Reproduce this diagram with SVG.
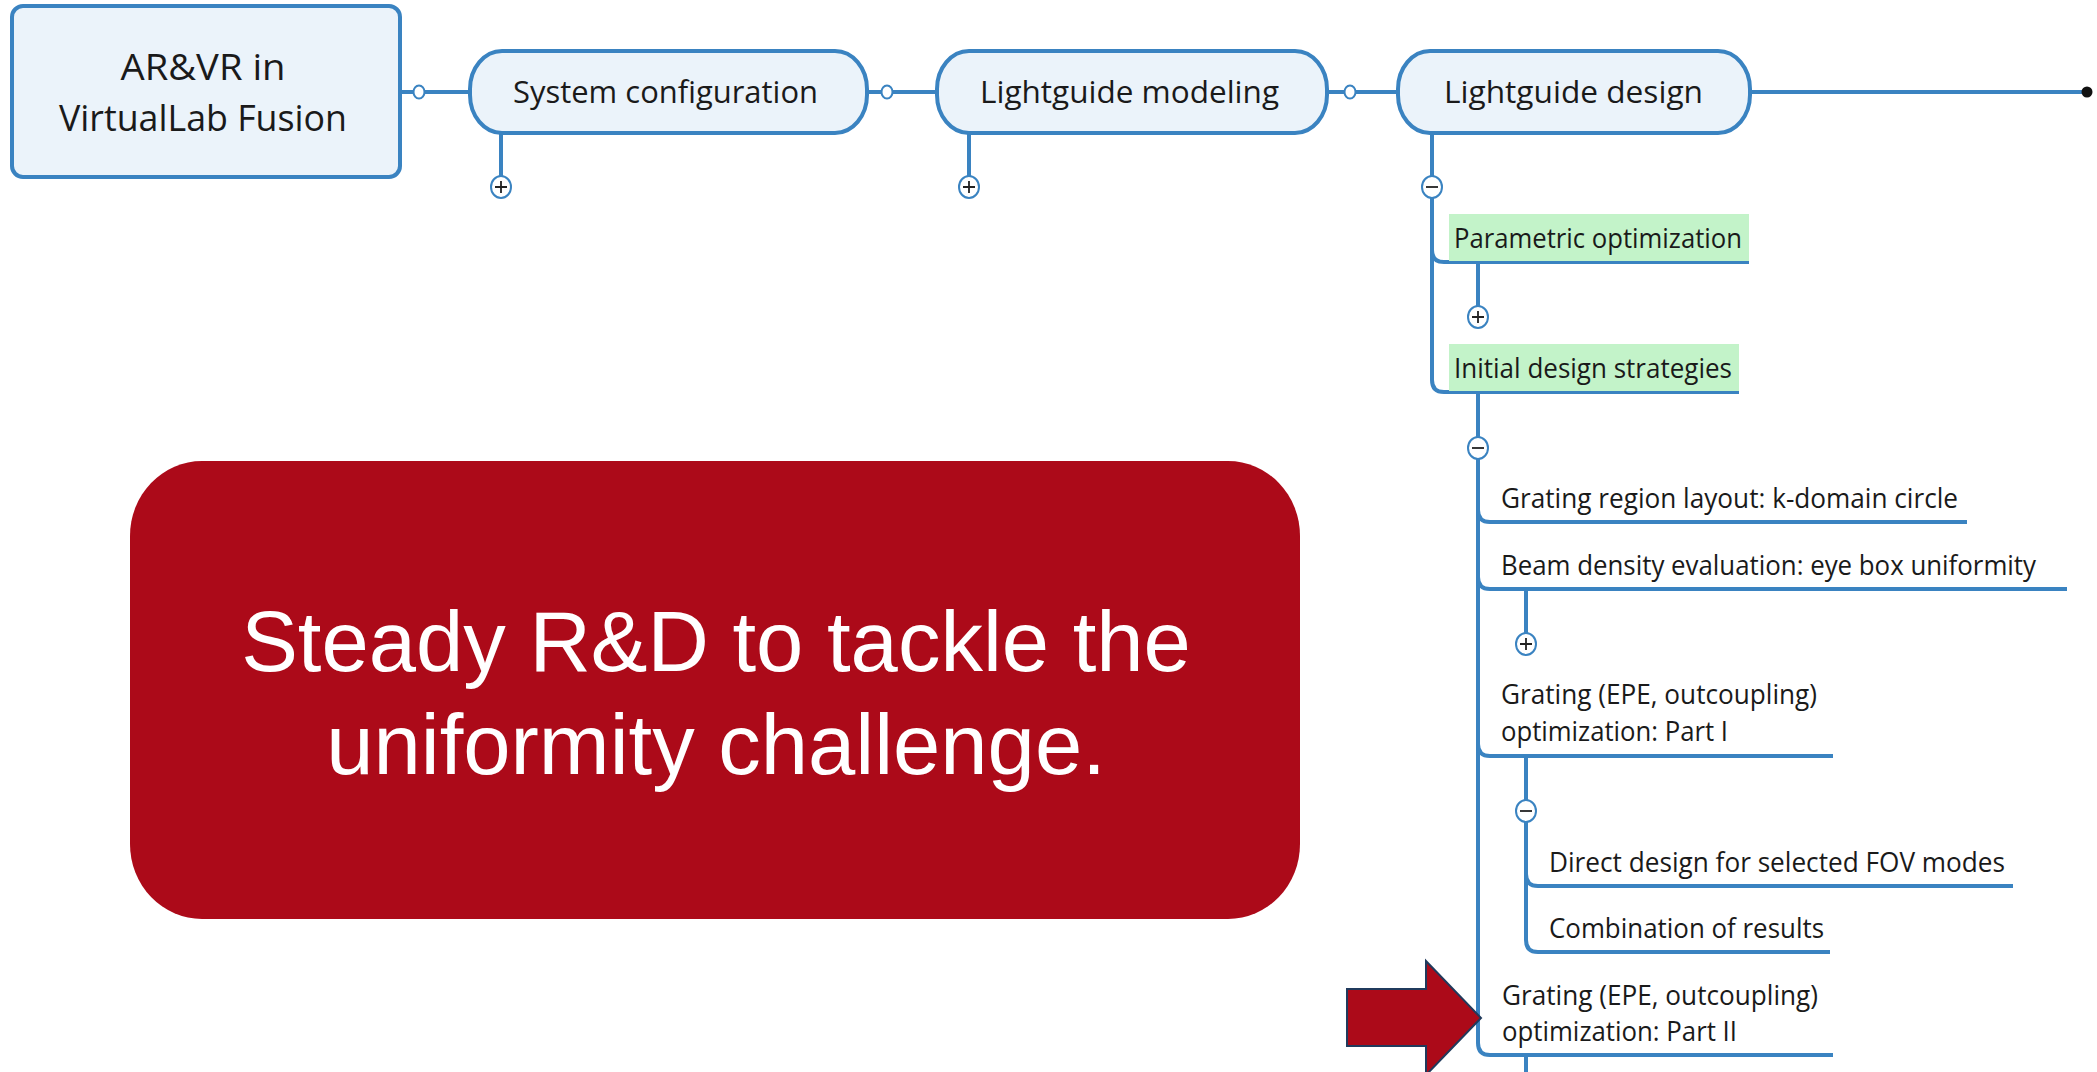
<svg xmlns="http://www.w3.org/2000/svg" width="2097" height="1072" viewBox="0 0 2097 1072">
<style>
.ln{fill:none;stroke:#3A83C1;stroke-width:4}
.pill{fill:#EBF3FA;stroke:#3A83C1;stroke-width:4}
.hub{fill:#fff;stroke:#3A83C1;stroke-width:2}
.tog{fill:#fff;stroke:#3A83C1;stroke-width:2}
.sign{stroke:#222;stroke-width:1.8}
.t{font-family:"Open Sans","Noto Sans",sans-serif;fill:#1a1a1a}
.t1{font-size:31px}
.t0{font-size:36px}
.t2{font-size:27px}
.green{fill:#C3F3C9}
.big{font-family:"Liberation Sans",Arial,sans-serif;font-size:85px;fill:#fff}
</style>
<rect width="2097" height="1072" fill="#fff"/>
<g id="connectors">
<line class="ln" x1="400" y1="92" x2="470" y2="92"/>
<line class="ln" x1="867" y1="92" x2="937" y2="92"/>
<line class="ln" x1="1327" y1="92" x2="1398" y2="92"/>
<line class="ln" x1="1750" y1="92" x2="2087" y2="92"/>
<circle cx="2087" cy="92" r="5.5" fill="#111"/>
<ellipse class="hub" cx="419" cy="92" rx="5.5" ry="6.5"/>
<ellipse class="hub" cx="887" cy="92" rx="5.5" ry="6.5"/>
<ellipse class="hub" cx="1350" cy="92" rx="5.5" ry="6.5"/>
<line class="ln" x1="501" y1="133" x2="501" y2="177"/>
<line class="ln" x1="969" y1="133" x2="969" y2="177"/>
<line class="ln" x1="1432" y1="133" x2="1432" y2="177"/>
<path class="ln" d="M1432,197 V380 Q1432,392 1444,392 H1739"/>
<path class="ln" d="M1432,250 Q1432,262 1444,262 H1749"/>
<line class="ln" x1="1478" y1="262" x2="1478" y2="307"/>
<line class="ln" x1="1478" y1="392" x2="1478" y2="438"/>
<path class="ln" d="M1478,458 V1043 Q1478,1055 1490,1055 H1833"/>
<path class="ln" d="M1478,510 Q1478,522 1490,522 H1967"/>
<path class="ln" d="M1478,577 Q1478,589 1490,589 H2067"/>
<path class="ln" d="M1478,744 Q1478,756 1490,756 H1833"/>
<line class="ln" x1="1526" y1="589" x2="1526" y2="634"/>
<line class="ln" x1="1526" y1="756" x2="1526" y2="801"/>
<path class="ln" d="M1526,821 V940 Q1526,952 1538,952 H1830"/>
<path class="ln" d="M1526,874 Q1526,886 1538,886 H2013"/>
<line class="ln" x1="1526" y1="1055" x2="1526" y2="1075"/>
</g>
<g id="toggles">
<g><ellipse class="tog" cx="501" cy="187" rx="10" ry="11"/><path class="sign" d="M495,187H507M501,181V193"/></g>
<g><ellipse class="tog" cx="969" cy="187" rx="10" ry="11"/><path class="sign" d="M963,187H975M969,181V193"/></g>
<g><ellipse class="tog" cx="1432" cy="187" rx="10" ry="11"/><path class="sign" d="M1426,187H1438"/></g>
<g><ellipse class="tog" cx="1478" cy="317" rx="10" ry="11"/><path class="sign" d="M1472,317H1484M1478,311V323"/></g>
<g><ellipse class="tog" cx="1478" cy="448" rx="10" ry="11"/><path class="sign" d="M1472,448H1484"/></g>
<g><ellipse class="tog" cx="1526" cy="644" rx="10" ry="11"/><path class="sign" d="M1520,644H1532M1526,638V650"/></g>
<g><ellipse class="tog" cx="1526" cy="811" rx="10" ry="11"/><path class="sign" d="M1520,811H1532"/></g>
</g>
<g id="root">
<rect x="12" y="6" width="388" height="171" rx="11" class="pill"/>
<text class="t t0" x="203" y="80" text-anchor="middle" textLength="165" lengthAdjust="spacingAndGlyphs">AR&amp;VR in</text>
<text class="t t0" x="203" y="131" text-anchor="middle" textLength="288" lengthAdjust="spacingAndGlyphs">VirtualLab Fusion</text>
</g>
<g id="system-configuration">
<rect x="470" y="51" width="397" height="82" rx="32" ry="38" class="pill"/>
<text class="t t1" x="513" y="103" textLength="305" lengthAdjust="spacingAndGlyphs">System configuration</text>
</g>
<g id="lightguide-modeling">
<rect x="937" y="51" width="390" height="82" rx="32" ry="38" class="pill"/>
<text class="t t1" x="980" y="103" textLength="299" lengthAdjust="spacingAndGlyphs">Lightguide modeling</text>
</g>
<g id="lightguide-design">
<rect x="1398" y="51" width="352" height="82" rx="32" ry="38" class="pill"/>
<text class="t t1" x="1444" y="103" textLength="259" lengthAdjust="spacingAndGlyphs">Lightguide design</text>
</g>
<g id="parametric-optimization">
<rect class="green" x="1449" y="214" width="300" height="47"/>
<text class="t t2" x="1454" y="248" textLength="288" lengthAdjust="spacingAndGlyphs">Parametric optimization</text>
</g>
<g id="initial-design-strategies">
<rect class="green" x="1449" y="344" width="290" height="47"/>
<text class="t t2" x="1454" y="378" textLength="278" lengthAdjust="spacingAndGlyphs">Initial design strategies</text>
</g>
<g id="grating-region-layout">
<text class="t t2" x="1501" y="508" textLength="457" lengthAdjust="spacingAndGlyphs">Grating region layout: k-domain circle</text>
</g>
<g id="beam-density-evaluation">
<text class="t t2" x="1501" y="575" textLength="535" lengthAdjust="spacingAndGlyphs">Beam density evaluation: eye box uniformity</text>
</g>
<g id="grating-part-1">
<text class="t t2" x="1501" y="704" textLength="316" lengthAdjust="spacingAndGlyphs">Grating (EPE, outcoupling)</text>
<text class="t t2" x="1501" y="741" textLength="227" lengthAdjust="spacingAndGlyphs">optimization: Part I</text>
</g>
<g id="direct-design">
<text class="t t2" x="1549" y="872" textLength="456" lengthAdjust="spacingAndGlyphs">Direct design for selected FOV modes</text>
</g>
<g id="combination">
<text class="t t2" x="1549" y="938" textLength="275" lengthAdjust="spacingAndGlyphs">Combination of results</text>
</g>
<g id="grating-part-2">
<text class="t t2" x="1502" y="1005" textLength="316" lengthAdjust="spacingAndGlyphs">Grating (EPE, outcoupling)</text>
<text class="t t2" x="1502" y="1041" textLength="235" lengthAdjust="spacingAndGlyphs">optimization: Part II</text>
</g>
<g id="callout">
<rect x="130" y="461" width="1170" height="458" rx="72" ry="75" fill="#AC0A19"/>
<text class="big" x="716" y="671" text-anchor="middle">Steady R&amp;D to tackle the</text>
<text class="big" x="716" y="774" text-anchor="middle">uniformity challenge.</text>
</g>
<g id="arrow">
<polygon points="1347,989 1426,989 1426,961 1481,1018 1426,1075 1426,1046 1347,1046" fill="#AC0A19" stroke="#203A5C" stroke-width="2"/>
</g>
</svg>
